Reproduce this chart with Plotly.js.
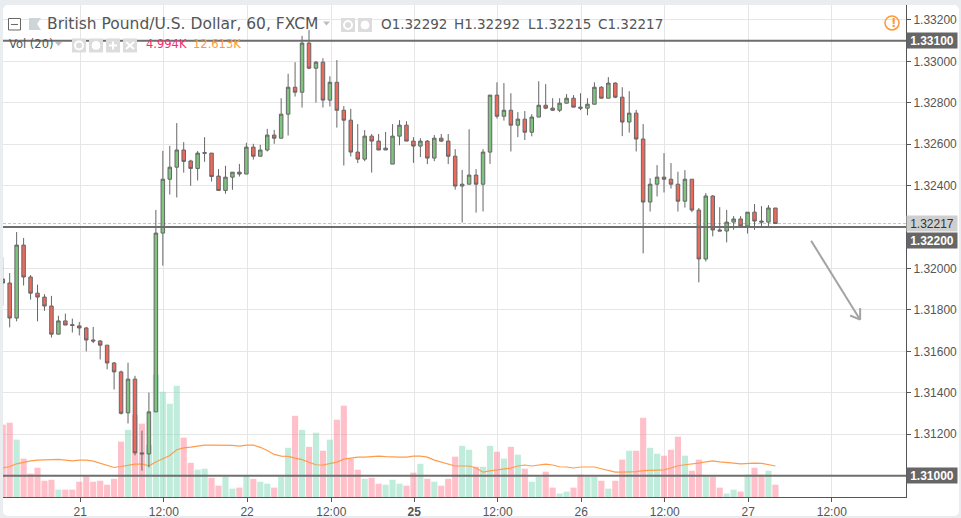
<!DOCTYPE html>
<html><head><meta charset="utf-8">
<script src="https://cdn.plot.ly/plotly-3.0.1.min.js"></script>
<style>
html,body{margin:0;padding:0;background:#e9edf0;width:961px;height:518px;overflow:hidden}
#panel{position:absolute;left:3px;top:5px;width:956px;height:511px;background:#fff;border-radius:5px}
#chart{position:absolute;left:0;top:0;width:961px;height:518px}
</style></head><body><div id="panel"></div><div id="chart"></div>
<script>
// hourly bars, first bar is 11 hours before the "21" day tick
const firstBar = -11;
const open = [
1.31949,1.31930,1.31761,1.32113,1.31959,1.31881,1.31862,1.31819,1.31683,1.31747,1.31729,
1.31723,1.31713,1.31655,1.31650,1.31630,1.31544,1.31501,1.31303,1.31466,1.31110,
1.31105,1.31308,1.32171,1.32431,1.32489,1.32572,1.32519,1.32483,1.32556,1.32557,
1.32446,1.32377,1.32441,1.32465,1.32456,1.32586,1.32542,1.32572,1.32644,1.32629,
1.32745,1.32875,1.32851,1.33088,1.32967,1.32996,1.32813,1.32899,1.32764,1.32716,
1.32562,1.32528,1.32639,1.32615,1.32572,1.32504,1.32639,1.32692,1.32615,1.32591,
1.32615,1.32533,1.32629,1.32615,1.32542,1.32398,1.32407,1.32451,1.32407,1.32562,
1.32837,1.32735,1.32764,1.32692,1.32721,1.32658,1.32731,1.32788,1.32774,1.32764,
1.32798,1.32822,1.32779,1.32774,1.32793,1.32875,1.32822,1.32895,1.32827,1.32707,
1.32750,1.32625,1.32321,1.32407,1.32441,1.32431,1.32407,1.32325,1.32431,1.32282,
1.32046,1.32350,1.32186,1.32181,1.32224,1.32239,1.32205,1.32272,1.32229,1.32224,
1.32292];
const high = [
1.32055,1.31978,1.32176,1.32147,1.31968,1.31922,1.31876,1.31868,1.31772,1.31782,1.31758,
1.31742,1.31718,1.31718,1.31655,1.31630,1.31549,1.31507,1.31545,1.31482,1.31217,
1.31401,1.32283,1.32568,1.32592,1.32702,1.32610,1.32525,1.32567,1.32634,1.32557,
1.32480,1.32496,1.32465,1.32505,1.32607,1.32602,1.32597,1.32674,1.32669,1.32822,
1.32940,1.32996,1.33123,1.33152,1.33002,1.33015,1.32928,1.33006,1.32784,1.32771,
1.32697,1.32668,1.32649,1.32649,1.32659,1.32697,1.32716,1.32711,1.32634,1.32629,
1.32620,1.32644,1.32649,1.32649,1.32576,1.32476,1.32672,1.32480,1.32576,1.32837,
1.32899,1.32895,1.32846,1.32755,1.32760,1.32745,1.32904,1.32890,1.32822,1.32822,
1.32842,1.32837,1.32846,1.32822,1.32899,1.32880,1.32924,1.32899,1.32875,1.32856,
1.32766,1.32697,1.32436,1.32499,1.32557,1.32509,1.32467,1.32475,1.32431,1.32292,
1.32364,1.32354,1.32296,1.32283,1.32253,1.32253,1.32272,1.32311,1.32301,1.32306,
1.32292];
const low = [
1.31821,1.31716,1.31745,1.31918,1.31850,1.31745,1.31796,1.31667,1.31683,1.31727,1.31691,
1.31677,1.31600,1.31640,1.31561,1.31513,1.31416,1.31295,1.31252,1.31098,1.31024,
1.31040,1.31308,1.32014,1.32357,1.32343,1.32463,1.32399,1.32425,1.32515,1.32420,
1.32377,1.32361,1.32380,1.32444,1.32456,1.32526,1.32542,1.32565,1.32602,1.32629,
1.32642,1.32830,1.32777,1.32962,1.32801,1.32777,1.32782,1.32680,1.32497,1.32541,
1.32509,1.32518,1.32463,1.32572,1.32572,1.32504,1.32595,1.32615,1.32510,1.32538,
1.32504,1.32518,1.32610,1.32504,1.32381,1.32222,1.32407,1.32270,1.32275,1.32505,
1.32724,1.32714,1.32565,1.32634,1.32620,1.32638,1.32731,1.32769,1.32760,1.32755,
1.32798,1.32779,1.32764,1.32740,1.32793,1.32822,1.32822,1.32822,1.32639,1.32656,
1.32565,1.32073,1.32275,1.32348,1.32367,1.32386,1.32275,1.32294,1.32272,1.31933,
1.32034,1.32155,1.32181,1.32126,1.32187,1.32200,1.32169,1.32187,1.32200,1.32200,
1.32215];
const close = [
1.31930,1.31761,1.32113,1.31959,1.31881,1.31862,1.31819,1.31683,1.31747,1.31727,1.31725,
1.31713,1.31655,1.31650,1.31630,1.31544,1.31501,1.31301,1.31466,1.31110,1.31105,
1.31308,1.32171,1.32431,1.32489,1.32572,1.32517,1.32483,1.32557,1.32559,1.32444,
1.32377,1.32441,1.32465,1.32456,1.32586,1.32542,1.32572,1.32644,1.32629,1.32745,
1.32875,1.32851,1.33088,1.32967,1.32996,1.32813,1.32899,1.32764,1.32716,1.32562,
1.32528,1.32639,1.32615,1.32572,1.32581,1.32639,1.32692,1.32615,1.32591,1.32615,
1.32533,1.32629,1.32615,1.32542,1.32398,1.32407,1.32451,1.32407,1.32562,1.32837,
1.32735,1.32764,1.32692,1.32721,1.32658,1.32731,1.32788,1.32774,1.32764,1.32798,
1.32822,1.32779,1.32774,1.32793,1.32875,1.32822,1.32895,1.32827,1.32707,1.32750,
1.32625,1.32321,1.32407,1.32441,1.32431,1.32407,1.32325,1.32431,1.32282,1.32046,
1.32350,1.32186,1.32181,1.32224,1.32239,1.32205,1.32272,1.32229,1.32224,1.32292,
1.32217];
// volume, in thousands
const volume = [
29.4,30.2,23.3,15.6,9.5,11.9,6.6,7.0,3.0,3.0,3.0,
6.2,8.3,6.2,6.6,5.0,7.4,22.5,27.3,33.4,29.8,
21.2,49.7,42.8,37.9,45.2,24.1,13.9,11.1,11.5,7.8,
4.6,8.3,3.4,3.8,8.7,7.4,6.2,5.4,3.8,8.3,
20.0,33.0,27.3,20.4,26.1,18.8,23.3,31.4,37.1,15.6,
11.1,7.4,7.8,5.4,5.0,7.0,5.4,4.6,9.9,13.5,
7.4,6.2,4.6,7.4,16.4,20.8,19.2,12.3,12.3,20.8,
18.4,15.6,20.4,17.2,11.5,6.2,8.3,10.3,3.8,1.4,
2.2,3.8,9.1,8.3,8.3,6.6,3.4,6.6,15.2,18.8,
18.8,32.2,20.0,17.6,16.8,19.2,24.5,16.8,10.7,15.2,
8.7,8.3,3.8,1.4,3.0,2.2,9.1,11.9,9.1,10.7,
4.994];
// 20 period volume average, in thousands
const volumeAverage = [
11.8,12.4,13.5,14.2,14.7,15.0,15.2,15.4,15.3,15.0,14.7,
15.0,15.0,14.6,13.7,12.6,12.0,12.4,12.9,13.4,13.4,
12.7,14.2,15.4,16.9,19.2,20.0,20.3,20.7,21.1,21.1,
21.1,21.1,21.0,20.7,21.1,21.1,20.2,18.9,17.3,16.6,
16.5,15.8,15.2,14.1,13.1,13.0,13.5,14.2,15.4,15.8,
16.2,16.2,16.5,16.6,16.4,16.2,16.2,16.2,16.6,16.6,
16.2,15.0,14.2,13.3,12.6,12.6,12.6,11.8,10.1,10.6,
11.0,11.4,11.8,12.6,13.0,12.6,13.0,13.4,13.0,12.3,
12.2,11.8,12.2,12.3,12.2,11.5,10.8,10.1,10.1,10.1,
10.3,10.7,10.8,11.0,11.0,11.8,12.7,13.1,13.4,13.8,
14.3,14.7,14.3,13.9,13.8,13.5,13.7,13.8,13.7,13.3,
12.613];
const priceTicks = [1.310,1.312,1.314,1.316,1.318,1.320,1.322,1.324,1.326,1.328,1.330,1.332];
const priceTickText = ['1.31000','1.31200','1.31400','1.31600','1.31800','1.32000','1.32200','1.32400','1.32600','1.32800','1.33000','1.33200'];
const timeTicks = [0.14,12.14,24.1,36.2,48.1,60.1,72.1,84.1,96.1,108.1];
const timeTickText = ['21','12:00','22','12:00','<b>25</b>','12:00','26','12:00','27','12:00'];
const levels = [1.331,1.322,1.310];
const lastClose = 1.32217;
const arrowLine = {x:[105.13,112.17], y:[1.32134,1.31753]};
const arrowBarbs = {x:[110.73,112.17], y:[1.31773,1.31809]};

const bars = open.map((_,k)=>k+firstBar);
const isUp = open.map((o,k)=>close[k]>o);

// pixel helpers for chrome decoration (header, icons)
const L=3,R=906,T=5,B=497.5;
const fx=p=>(p-L)/(R-L), fy=p=>(B-p)/(B-T);
const text=(s,px,py,size,color,opt={})=>Object.assign({xref:'paper',yref:'paper',x:fx(px),y:fy(py),text:s,showarrow:false,xanchor:'left',yanchor:'middle',font:{size,color,family:'"DejaVu Sans",sans-serif'},borderpad:0},opt);
const rect=(x0,y0,x1,y1,fill,lc,lw)=>({type:'rect',xref:'paper',yref:'paper',x0:fx(x0),x1:fx(x1),y0:fy(y0),y1:fy(y1),fillcolor:fill,line:{color:lc||fill,width:lw===undefined?0:lw},layer:'above'});
const seg=(x0,y0,x1,y1,c,w)=>({type:'line',xref:'paper',yref:'paper',x0:fx(x0),x1:fx(x1),y0:fy(y0),y1:fy(y1),line:{color:c,width:w},layer:'above'});
const circ=(cx,cy,r,fill,lc,lw)=>({type:'circle',xref:'paper',yref:'paper',x0:fx(cx-r),x1:fx(cx+r),y0:fy(cy-r),y1:fy(cy+r),fillcolor:fill,line:{color:lc,width:lw},layer:'above'});
const poly=(pts,fill)=>({type:'path',xref:'paper',yref:'paper',path:'M'+pts.map(p=>fx(p[0])+','+fy(p[1])).join(' L')+' Z',fillcolor:fill,line:{width:0},layer:'above'});

const tag=(val,label,bg,fg,shift,bold)=>({xref:'paper',yref:'y2',x:1.0005,y:val,yshift:shift,text:bold?'<b>'+label+'</b>':label,showarrow:false,xanchor:'left',yanchor:'middle',align:'center',width:50,height:15,bgcolor:bg,borderpad:0,font:{family:'"Liberation Sans",Arial,sans-serif',size:12,color:fg}});

const traces=[
 {type:'bar',x:bars,y:volume,yaxis:'y',xaxis:'x',marker:{color:isUp.map(u=>u?'rgba(130,218,185,.5)':'rgba(255,130,150,.5)'),line:{width:0}},hoverinfo:'skip',showlegend:false},
 {type:'scatter',mode:'lines',x:bars,y:volumeAverage,yaxis:'y',xaxis:'x',line:{color:'#ff9c4a',width:1.2},hoverinfo:'skip',showlegend:false},
 {type:'candlestick',x:bars,open,high,low,close,yaxis:'y2',xaxis:'x',whiskerwidth:0,
  increasing:{line:{color:'#666666',width:1},fillcolor:'#7fc47e'},
  decreasing:{line:{color:'#666666',width:1},fillcolor:'#ec6a5c'},hoverinfo:'skip',showlegend:false}
];
const shapes=[
 ...levels.map(v=>({type:'line',xref:'paper',yref:'y2',x0:0,x1:1,y0:v,y1:v,line:{color:'#6e6e6e',width:2},layer:'above'})),
 {type:'line',xref:'paper',yref:'y2',x0:0,x1:1,y0:lastClose,y1:lastClose,line:{color:'#c4c4c4',width:1,dash:'3px,2px'},layer:'below'},
 {type:'line',xref:'x',yref:'y2',x0:arrowLine.x[0],x1:arrowLine.x[1],y0:arrowLine.y[0],y1:arrowLine.y[1],line:{color:'#a3a3a3',width:2},layer:'above'},
 {type:'line',xref:'x',yref:'y2',x0:arrowBarbs.x[0],x1:arrowLine.x[1],y0:arrowBarbs.y[0],y1:arrowLine.y[1],line:{color:'#a3a3a3',width:2},layer:'above'},
 {type:'line',xref:'x',yref:'y2',x0:arrowBarbs.x[1],x1:arrowLine.x[1],y0:arrowBarbs.y[1],y1:arrowLine.y[1],line:{color:'#a3a3a3',width:2},layer:'above'},
 // header chrome
 rect(8.5,18.5,20.5,30,'#ffffff','#666666',1), seg(11,24.5,18,24.5,'#666666',1),
 poly([[29,18],[41,18],[37,24],[41,30],[29,30]],'#cdd5d9'),
 poly([[323,21.5],[330,21.5],[326.5,25.5]],'#bdbdbd'),
 poly([[55,42],[62,42],[58.5,46]],'#bdbdbd'),
 rect(341,18,355,32,'#dcdcdc'), circ(348,25,4,'#dcdcdc','#ffffff',2),
 rect(358,18,372,32,'#dcdcdc'), circ(365,25,4,'#ffffff','#ffffff',1),
 rect(72,38.5,86,52.5,'#dcdcdc'), circ(79,45.5,4,'#dcdcdc','#ffffff',2),
 rect(89,38.5,103,52.5,'#dcdcdc'), circ(96,45.5,4,'#ffffff','#ffffff',1),
 rect(106,38.5,120,52.5,'#dcdcdc'), seg(109,45.5,117,45.5,'#ffffff',2), seg(113,41.5,113,49.5,'#ffffff',2),
 rect(123,38.5,137,52.5,'#dcdcdc'), seg(126,42,134,49,'#ffffff',2), seg(134,42,126,49,'#ffffff',2),
 circ(892,23,7,'rgba(0,0,0,0)','#ff9a3c',1.6)
];
const annotations=[
 text('British Pound/U.S. Dollar, 60, FXCM',46,24,15.5,'#555555'),
 text('O1.32292',380,24.5,13.5,'#555555'),
 text('H1.32292',453,24.5,13.5,'#555555'),
 text('L1.32215',527,24.5,13.5,'#555555'),
 text('C1.32217',597,24.5,13.5,'#555555'),
 text('Vol (20)',8,44.5,11.5,'#555555'),
 text('4.994K',145,44.5,11.5,'#f0306e'),
 text('12.613K',192,44.5,11.5,'#ff9a3c'),
 text('<b>!</b>',889.5,23,12,'#ff9a3c'),
 tag(1.331,'1.33100','#666666','#ffffff',0,true),
 tag(lastClose,'1.32217','#cfcfcf','#333333',0,false),
 tag(1.322,'1.32200','#666666','#ffffff',-13,true),
 tag(1.310,'1.31000','#666666','#ffffff',0,true)
];
const layout={
 width:961,height:518,margin:{l:L,r:961-R,t:T,b:518-B,pad:0},
 paper_bgcolor:'rgba(0,0,0,0)',plot_bgcolor:'rgba(0,0,0,0)',
 showlegend:false,bargap:0.12,boxgap:0.28,barmode:'overlay',
 xaxis:{type:'linear',range:[-10.96,118.76],rangeslider:{visible:false},tickmode:'array',tickvals:timeTicks,ticktext:timeTickText,
  showgrid:true,gridcolor:'#e6e6e6',gridwidth:1,zeroline:false,showline:true,linecolor:'#555555',linewidth:1,ticks:'outside',ticklen:4,tickcolor:'#555555',
  tickfont:{family:'"Liberation Sans",Arial,sans-serif',size:12,color:'#555555'}},
 yaxis:{range:[0,200],visible:false,showgrid:false,zeroline:false,fixedrange:true},
 yaxis2:{overlaying:'y',side:'right',anchor:'x',range:[1.30897,1.33272],tickmode:'array',tickvals:priceTicks,ticktext:priceTickText,
  showgrid:true,gridcolor:'#e6e6e6',gridwidth:1,zeroline:false,showline:true,linecolor:'#555555',linewidth:1,ticks:'outside',ticklen:4,tickcolor:'#555555',
  tickfont:{family:'"Liberation Sans",Arial,sans-serif',size:12,color:'#555555'}},
 shapes,annotations
};
Plotly.newPlot('chart',traces,layout,{displayModeBar:false,staticPlot:true});
</script></body></html>
